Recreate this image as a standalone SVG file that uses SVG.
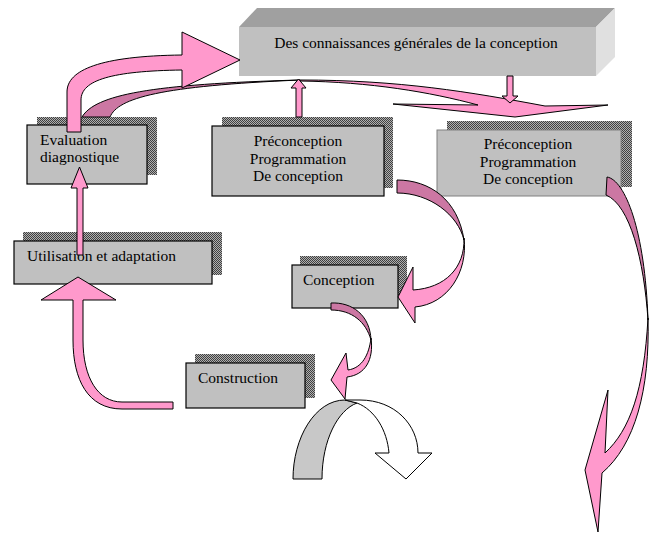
<svg xmlns="http://www.w3.org/2000/svg" width="656" height="533" viewBox="0 0 656 533">
<defs>
<pattern id="dots" width="2" height="2" patternUnits="userSpaceOnUse">
<rect width="2" height="2" fill="#b0b0b0"/>
<rect width="1" height="1" fill="#404040"/>
<rect x="1" y="1" width="1" height="1" fill="#404040"/>
</pattern>
</defs>
<style>
.shadow{fill:url(#dots)}
.box{fill:#c0c0c0;stroke:#000;stroke-width:1.2}
.t{font-family:"Liberation Serif","Times New Roman",serif;font-size:15.5px;fill:#000}
.c{text-anchor:middle}
.pk{fill:#ff99cc;stroke:#000;stroke-width:1;stroke-linejoin:miter}
.dk{fill:#cc77a3;stroke:#000;stroke-width:1}
</style>
<rect width="656" height="533" fill="#fff"/>

<g id="node-top">
<polygon points="239,27 257,8 615,8 596,27" fill="#a0a0a0"/>
<polygon points="596,27 615,8 615,57 596,76" fill="#e0e0e0"/>
<rect x="239" y="27" width="357" height="49" fill="#c0c0c0"/>
<text class="t c" x="416" y="48">Des connaissances générales de la conception</text>
</g>

<g id="node-evaluation">
<rect class="shadow" x="37" y="117" width="120" height="58"/>
<rect class="box" x="27" y="125" width="120" height="59"/>
<text class="t" x="40" y="145">Evaluation</text>
<text class="t" x="40" y="162">diagnostique</text>
</g>

<g id="node-preconception1">
<rect class="shadow" x="222" y="117" width="171" height="71"/>
<rect class="box" x="212" y="126" width="172" height="70"/>
<text class="t c" x="298" y="146">Préconception</text>
<text class="t c" x="298" y="163.5">Programmation</text>
<text class="t c" x="298" y="181">De conception</text>
</g>

<g id="node-preconception2">
<rect class="shadow" x="447" y="121" width="185" height="66"/>
<rect x="437" y="130" width="184" height="66" fill="#c0c0c0" stroke="#808080" stroke-width="1"/>
<text class="t c" x="528" y="149">Préconception</text>
<text class="t c" x="528" y="167">Programmation</text>
<text class="t c" x="528" y="184">De conception</text>
</g>

<g id="node-utilisation">
<rect class="shadow" x="23" y="232" width="199" height="43"/>
<rect class="box" x="14" y="241" width="198" height="43"/>
<text class="t" x="27" y="261">Utilisation et adaptation</text>
</g>

<g id="node-conception">
<rect class="shadow" x="300" y="256" width="107" height="42"/>
<rect class="box" x="292" y="265" width="106" height="43"/>
<text class="t" x="303" y="285">Conception</text>
</g>

<g id="node-construction">
<rect class="shadow" x="195" y="354" width="120" height="44"/>
<rect class="box" x="186" y="363" width="119" height="45"/>
<text class="t" x="198" y="383">Construction</text>
</g>

<g id="connectors">
<path class="dk" d="M82,117 C95,95 150,84 300,80 C160,86 118,98 110,117 Z"/>
<path class="pk" d="M300,80 C400,80 470,92 545,106 L608,105 L515,117 L393,104 L478,105 C430,92 370,82 300,81 Z"/>
<path class="pk" d="M67,132 L67,92 C67,70 100,56 182,55 L182,32 L240,60 L182,88 L182,70 C112,71 81,80 81,100 L81,132 Z"/>
<path class="pk" d="M507,76 L513,76 L513,96 L518,96 L510,103 L502,96 L507,96 Z"/>
<path class="pk" d="M296,117 L296,88 L291,88 L298.5,79 L306,88 L302,88 L302,117 Z"/>
<path class="pk" d="M77,255 L77,188 L71,188 L79.5,167 L88,188 L83,188 L83,255 Z"/>
<path class="pk" d="M173,409 L122,409 C88,409 73,380 73,340 L73,300 L41,300 L78,277 L116,300 L83,300 L83,340 C83,378 98,402 122,402 L173,402 Z"/>
<path class="dk" d="M397,180 C430,180 458,200 464,240 C458,215 430,193 397,193 Z"/>
<path class="pk" d="M464,238 C468,272 448,304 415,307 L415,323 L398,297 L413,267 L413,290 C445,288 465,268 464,238 Z"/>
<path class="dk" d="M331,303 C352,302 370,315 371,340 C366,322 352,310 331,310 Z"/>
<path class="pk" d="M371,338 C374,360 365,375 347,377 L345,399 L331,380 L346,353 L348,370 C362,368 369,355 371,338 Z"/>
<path class="dk" d="M607,177 C625,180 645,230 648,320 C644,260 630,205 606,195 Z"/>
<path class="pk" d="M648,318 C650,390 635,445 602,473 L598,532 L585,470 L608,390 L605,453 C630,430 644,390 648,318 Z"/>
<path d="M293,479 C293,438 315,400 345,400 L357,403 C338,410 322,440 322,479 Z" fill="#c8c8c8" stroke="#000" stroke-width="1"/>
<path d="M345,400 L360,400 C395,400 418,425 418,453 L432,453 L406,479 L375,453 L389,453 C387,430 375,410 357,403 Z" fill="#fff" stroke="#000" stroke-width="1"/>
</g>
</svg>
